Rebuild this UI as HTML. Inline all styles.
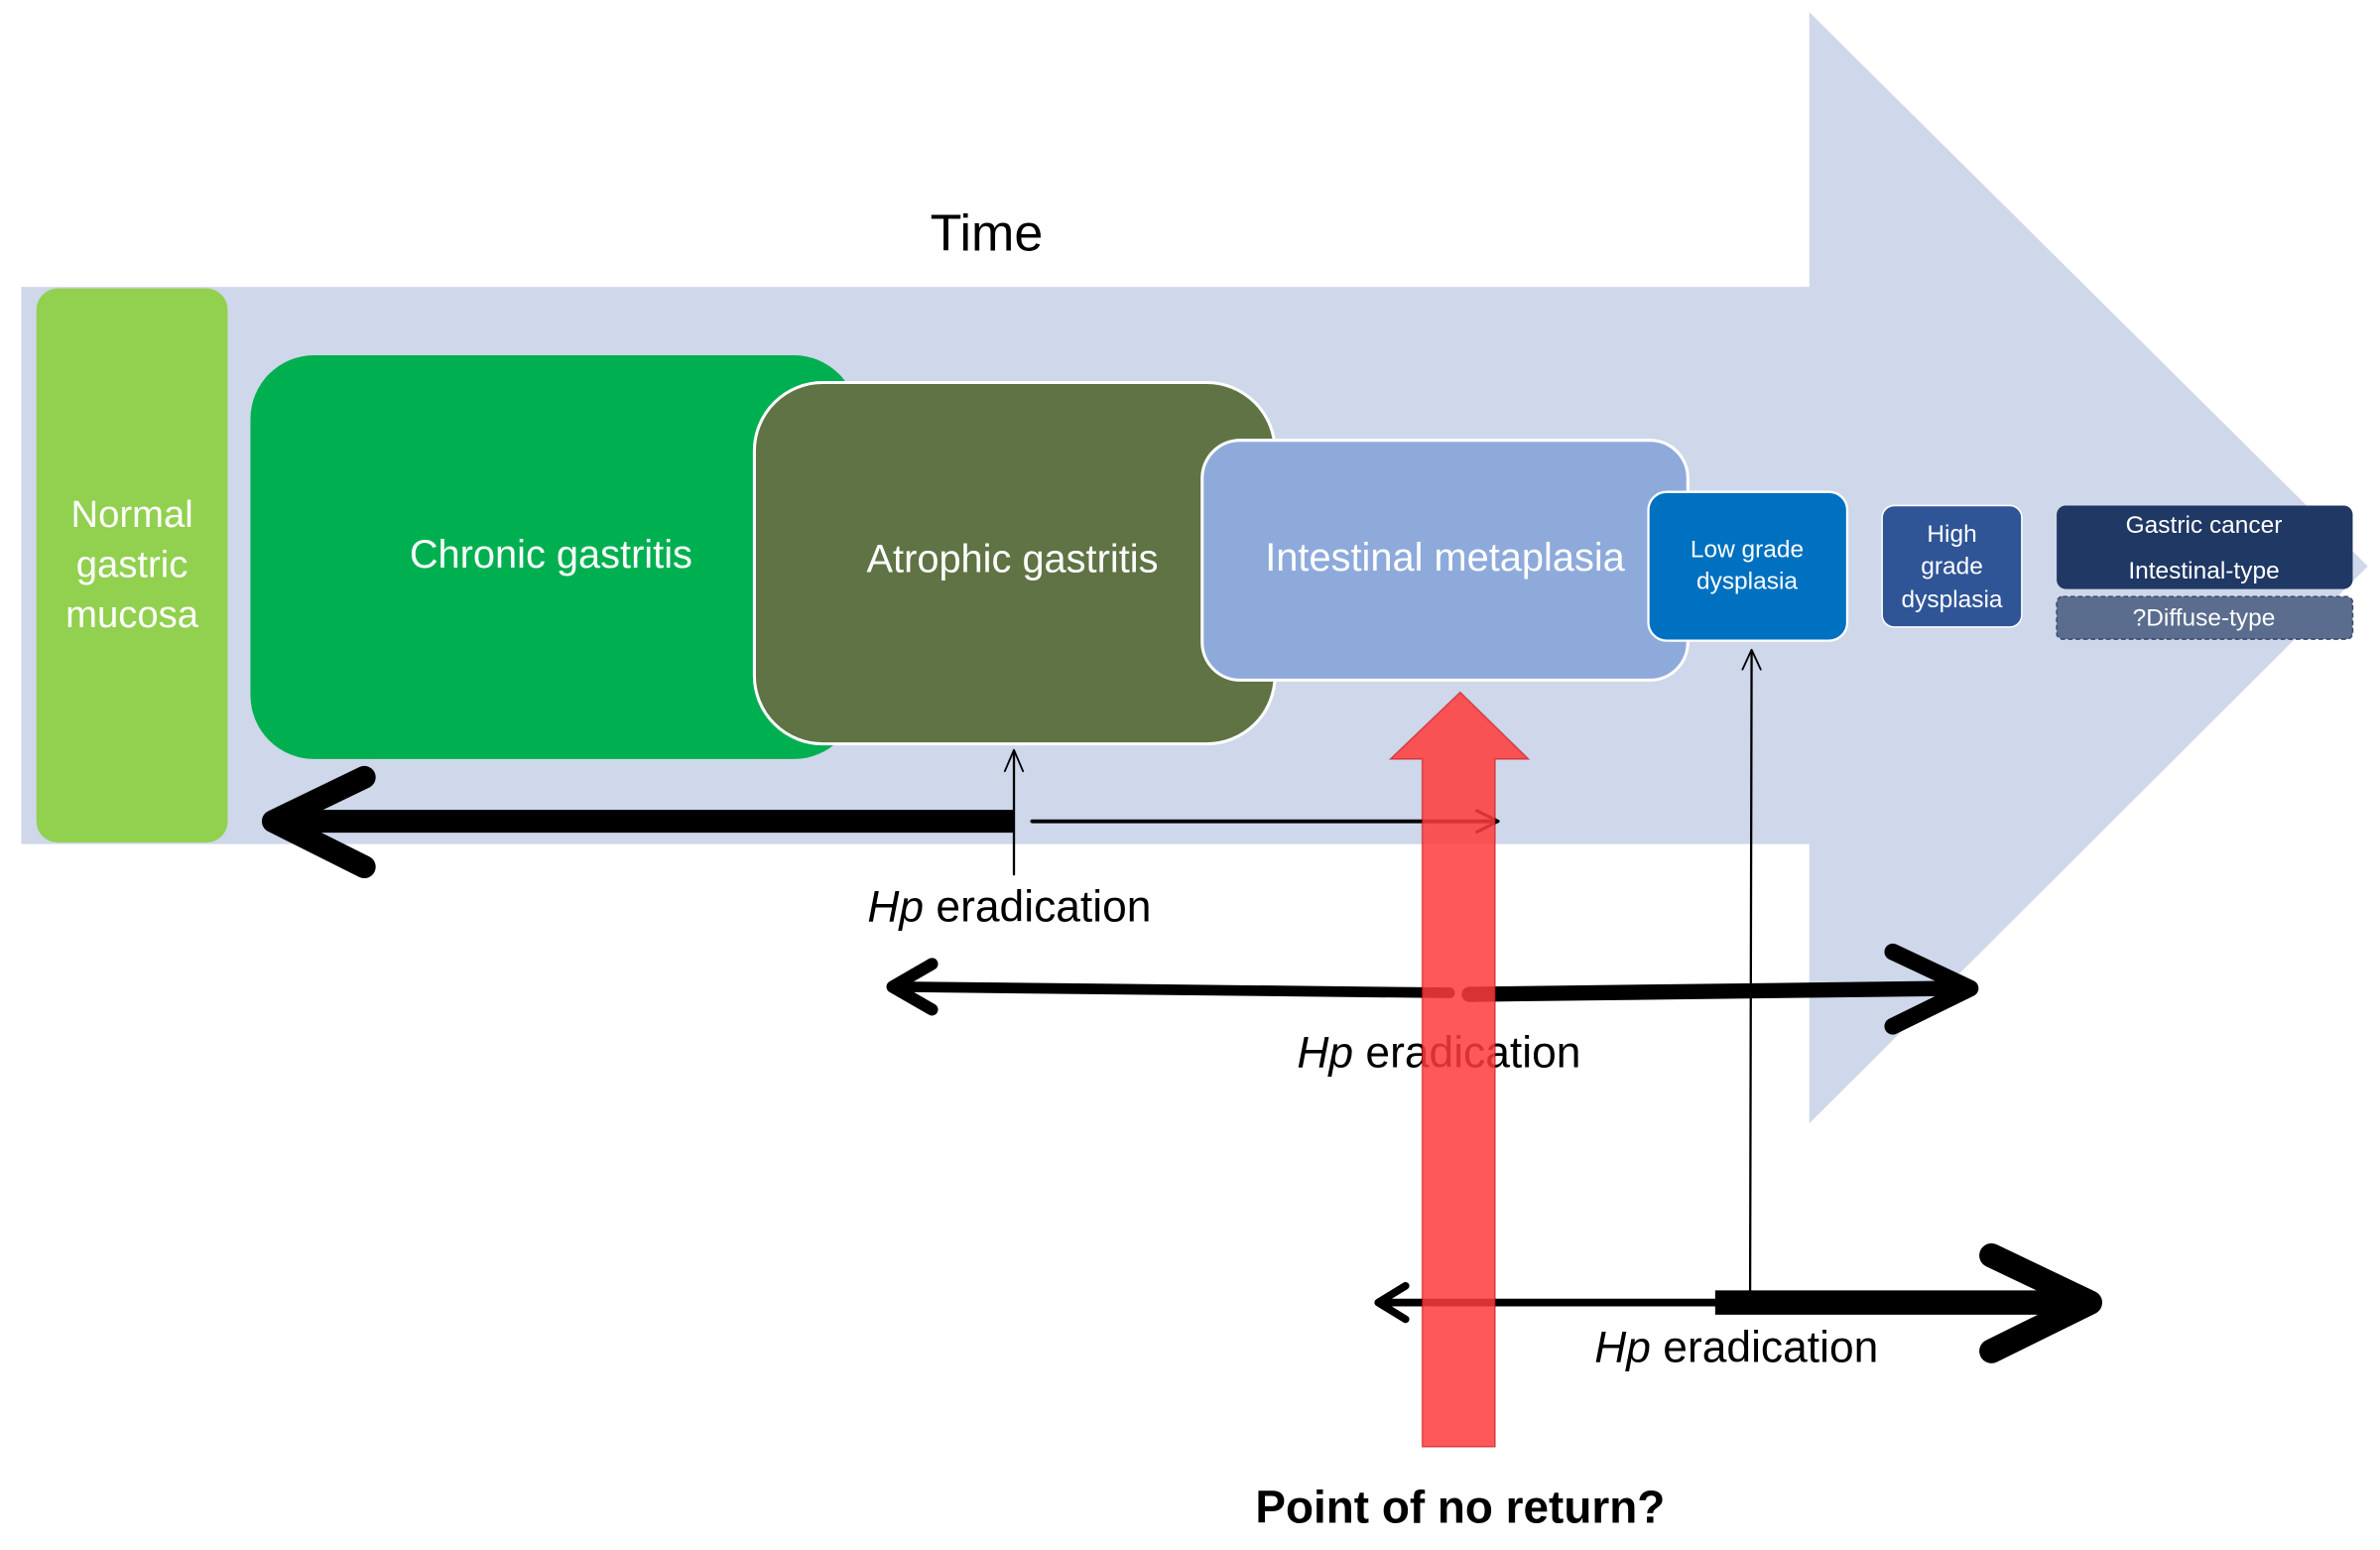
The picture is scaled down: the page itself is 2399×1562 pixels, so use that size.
<!DOCTYPE html>
<html><head><style>html,body{margin:0;padding:0;background:#fff}svg{display:block}</style></head>
<body>
<svg width="2399" height="1562" viewBox="0 0 1568 1021" preserveAspectRatio="none" xmlns="http://www.w3.org/2000/svg" font-family="Liberation Sans, sans-serif">
<polygon points="14,189 1192,189 1192,8 1560,373 1192,740 1192,556 14,556" fill="#cfd7ea"/>
<text x="650" y="165" font-size="34" text-anchor="middle" fill="#000">Time</text>
<rect x="24" y="190" width="126" height="365" rx="14" fill="#92d050"/>
<g fill="#fff" font-size="25" text-anchor="middle"><text x="87" y="347">Normal</text><text x="87" y="380">gastric</text><text x="87" y="413">mucosa</text></g>
<rect x="165" y="234" width="400" height="266" rx="42" fill="#00b050"/>
<text x="363" y="374" font-size="26" fill="#fff" text-anchor="middle">Chronic gastritis</text>
<rect x="497" y="252" width="343" height="238" rx="45" fill="#607344" stroke="#fff" stroke-width="2"/>
<text x="667" y="377" font-size="26" fill="#fff" text-anchor="middle">Atrophic gastritis</text>
<rect x="792" y="290" width="320" height="158" rx="25" fill="#8eaadb" stroke="#fff" stroke-width="2"/>
<text x="952" y="376" font-size="26" fill="#fff" text-anchor="middle">Intestinal metaplasia</text>
<rect x="1086" y="324" width="131" height="98" rx="12" fill="#0070c0" stroke="#fff" stroke-width="1.5"/>
<g fill="#fff" font-size="16" text-anchor="middle"><text x="1151" y="367">Low grade</text><text x="1151" y="388">dysplasia</text></g>
<rect x="1240" y="333" width="92" height="80" rx="8" fill="#2f5597" stroke="#fff" stroke-width="1"/>
<g fill="#fff" font-size="16" text-anchor="middle"><text x="1286" y="357">High</text><text x="1286" y="378">grade</text><text x="1286" y="400">dysplasia</text></g>
<rect x="1355" y="333" width="195" height="55" rx="6" fill="#1f3864"/>
<g fill="#fff" font-size="16" text-anchor="middle"><text x="1452" y="351">Gastric cancer</text><text x="1452" y="381">Intestinal-type</text></g>
<rect x="1355" y="393" width="195" height="28" rx="4" fill="#5a6d8f" stroke="#3a4a6a" stroke-dasharray="3,2"/>
<text x="1452" y="412" fill="#fff" font-size="16" text-anchor="middle">?Diffuse-type</text>
<g stroke="#000" fill="none" stroke-linecap="round" stroke-linejoin="round">
<line x1="668" y1="541" x2="185" y2="541" stroke-width="15" stroke-linecap="butt"/>
<polyline points="240,512 180,541 240,571" stroke-width="15"/>
<line x1="680" y1="541" x2="985" y2="541" stroke-width="2.5"/>
<polyline points="973,534 987,541 973,548" stroke-width="2"/>
<line x1="668" y1="576" x2="668" y2="496" stroke-width="1.5"/>
<polyline points="662,508 668,494 674,508" stroke-width="1.2"/>
<line x1="595" y1="650" x2="955" y2="654" stroke-width="7"/>
<line x1="968" y1="655" x2="1290" y2="651" stroke-width="10"/>
<polyline points="614,635 588,650 614,665" stroke-width="8"/>
<polyline points="1247,627 1298,651 1247,676" stroke-width="11"/>
<line x1="1153" y1="858" x2="1154" y2="430" stroke-width="1.5"/>
<polyline points="1148,441 1154,428 1160,441" stroke-width="1.2"/>
<line x1="912" y1="858" x2="1135" y2="858" stroke-width="5"/>
<line x1="1130" y1="858" x2="1372" y2="858" stroke-width="16" stroke-linecap="butt"/>
<polyline points="926,847 908,858 926,869" stroke-width="5"/>
<polyline points="1312,827 1377,858 1312,890" stroke-width="16"/>
</g>
<text x="665" y="607" font-size="29" text-anchor="middle"><tspan font-style="italic">Hp</tspan> eradication</text>
<text x="948" y="703" font-size="29" text-anchor="middle"><tspan font-style="italic">Hp</tspan> eradication</text>
<text x="1144" y="897" font-size="29" text-anchor="middle"><tspan font-style="italic">Hp</tspan> eradication</text>
<polygon points="937,953 985,953 985,500 1007,500 962,456 916,500 937,500" fill="#ff3b3b" fill-opacity="0.85" stroke="#c00000" stroke-opacity="0.5" stroke-width="1"/>
<text x="962" y="1003" font-size="30" font-weight="bold" text-anchor="middle">Point of no return?</text>
</svg>
</body></html>
